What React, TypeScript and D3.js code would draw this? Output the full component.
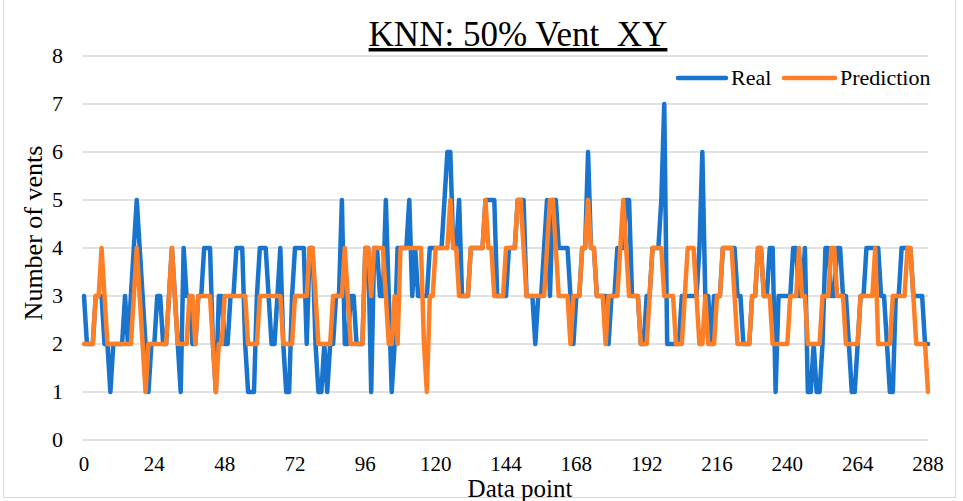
import React from "react";
import * as d3 from "d3";

// Number of vents per data point: measured (Real) and KNN output (Prediction)
const realValues: number[] = [
  3, 2, 2, 2, 3, 3, 3, 2, 2, 1,
  2, 2, 2, 2, 3, 2, 3, 4, 5, 4,
  3, 2, 1, 2, 2, 3, 3, 2, 2, 3,
  4, 3, 2, 1, 4, 3, 3, 2, 2, 3,
  3, 4, 4, 4, 2, 1, 3, 3, 2, 2,
  3, 3, 4, 4, 4, 2, 1, 1, 1, 3,
  4, 4, 4, 3, 2, 2, 3, 4, 2, 1,
  1, 3, 4, 4, 4, 4, 2, 4, 4, 2,
  1, 1, 2, 1, 2, 2, 3, 3, 5, 2,
  2, 3, 3, 2, 2, 2, 4, 4, 1, 4,
  4, 3, 3, 5, 3, 1, 2, 4, 4, 4,
  4, 5, 3, 4, 3, 3, 3, 3, 4, 4,
  4, 4, 4, 5, 6, 6, 4, 4, 5, 3,
  3, 3, 4, 4, 4, 4, 4, 5, 5, 5,
  5, 3, 3, 3, 3, 4, 4, 4, 5, 5,
  5, 3, 3, 3, 2, 3, 3, 4, 5, 3,
  5, 5, 4, 4, 4, 4, 3, 2, 3, 3,
  4, 4, 6, 4, 4, 3, 3, 3, 3, 2,
  3, 3, 4, 4, 4, 5, 5, 3, 3, 3,
  2, 2, 3, 3, 4, 4, 4, 5, 7, 2,
  2, 2, 2, 2, 3, 3, 3, 3, 3, 3,
  4, 6, 3, 3, 2, 3, 3, 3, 4, 4,
  4, 4, 4, 3, 3, 2, 2, 2, 3, 3,
  4, 4, 3, 3, 4, 4, 1, 3, 3, 3,
  3, 3, 4, 4, 3, 3, 4, 1, 1, 2,
  1, 1, 2, 4, 4, 3, 3, 4, 4, 3,
  3, 2, 1, 1, 2, 3, 3, 4, 4, 4,
  4, 4, 3, 3, 2, 1, 1, 3, 3, 4,
  4, 4, 4, 3, 3, 3, 3, 2, 2,
];

const predictionValues: number[] = [
  2, 2, 2, 2, 3, 3, 4, 3, 2, 2,
  2, 2, 2, 2, 2, 2, 2, 3, 4, 3,
  2, 1, 2, 2, 2, 2, 2, 2, 2, 3,
  4, 3, 2, 2, 2, 2, 3, 3, 2, 3,
  3, 3, 3, 3, 2, 1, 2, 2, 3, 3,
  3, 3, 3, 3, 3, 3, 2, 2, 2, 2,
  3, 3, 3, 3, 3, 3, 3, 3, 2, 2,
  2, 2, 3, 3, 3, 3, 3, 4, 4, 3,
  2, 2, 2, 2, 2, 3, 3, 3, 3, 4,
  3, 2, 2, 2, 2, 2, 4, 4, 3, 4,
  4, 4, 4, 3, 2, 2, 3, 2, 4, 4,
  4, 4, 4, 4, 4, 4, 2, 1, 3, 3,
  4, 4, 4, 4, 4, 5, 4, 4, 3, 3,
  3, 3, 4, 4, 4, 4, 4, 5, 4, 4,
  3, 3, 3, 3, 4, 4, 4, 4, 5, 5,
  4, 3, 3, 3, 3, 3, 3, 3, 4, 5,
  5, 4, 3, 3, 3, 3, 2, 3, 3, 3,
  4, 4, 5, 4, 4, 3, 3, 3, 2, 3,
  3, 3, 3, 4, 5, 4, 3, 3, 3, 3,
  2, 2, 2, 3, 4, 4, 4, 4, 3, 3,
  3, 3, 2, 2, 2, 3, 4, 4, 4, 3,
  2, 2, 3, 2, 2, 2, 3, 3, 4, 4,
  4, 4, 3, 2, 2, 2, 2, 2, 3, 3,
  4, 4, 3, 3, 3, 2, 2, 2, 2, 2,
  2, 3, 3, 3, 4, 3, 3, 2, 2, 2,
  2, 2, 3, 3, 3, 4, 4, 3, 3, 3,
  2, 2, 2, 2, 2, 3, 3, 3, 3, 3,
  4, 2, 2, 2, 2, 2, 3, 3, 3, 3,
  3, 4, 4, 3, 2, 2, 2, 2, 1,
];

const xTickValues: number[] = [0, 24, 48, 72, 96, 120, 144, 168, 192, 216, 240, 264, 288];
const yTickValues: number[] = [0, 1, 2, 3, 4, 5, 6, 7, 8];

const seriesNames = ["Real", "Prediction"];
const seriesColors = ["#1874CD", "#FF7F27"];

const WIDTH = 963;
const HEIGHT = 501;
const FONT = "'Liberation Serif', 'Times New Roman', serif";

export default function App() {
  const x = d3.scaleLinear().domain([0, 288]).range([84, 928]);
  const y = d3.scaleLinear().domain([0, 8]).range([440, 56]);

  const line = d3
    .line<number>()
    .x((_, i) => x(i))
    .y((d) => y(d));

  const series = [realValues, predictionValues];

  return (
    <svg
      width={WIDTH}
      height={HEIGHT}
      style={{ position: "absolute", left: 0, top: 0, background: "#fff" }}
      fontFamily={FONT}
    >
      <rect x={3.5} y={-2} width={952} height={499.5} fill="#fff" stroke="#d9d9d9" strokeWidth={1} />

      {/* horizontal gridlines */}
      {yTickValues.map((t) => (
        <line key={t} x1={82} x2={928} y1={y(t)} y2={y(t)} stroke="#d9d9d9" strokeWidth={1.5} />
      ))}

      {/* y tick labels */}
      {yTickValues.map((t) => (
        <text key={t} x={63} y={y(t)} dy="0.33em" textAnchor="end" fontSize={22} fill="#000">
          {t}
        </text>
      ))}

      {/* x tick labels */}
      {xTickValues.map((t) => (
        <text key={t} x={x(t)} y={471} textAnchor="middle" fontSize={21} fill="#000">
          {t}
        </text>
      ))}

      {/* series lines */}
      {series.map((vals, k) => (
        <path
          key={k}
          d={line(vals) ?? ""}
          fill="none"
          stroke={seriesColors[k]}
          strokeWidth={4.5}
          strokeLinejoin="round"
          strokeLinecap="round"
        />
      ))}

      {/* title */}
      <text x={518} y={46} textAnchor="middle" fontSize={35} textDecoration="underline" fill="#000">
        KNN: 50% Vent_XY
      </text>

      {/* axis titles */}
      <text x={520} y={497} textAnchor="middle" fontSize={25} fill="#000">
        Data point
      </text>
      <text
        transform={`translate(42, 233) rotate(-90)`}
        textAnchor="middle"
        fontSize={26}
        fill="#000"
      >
        Number of vents
      </text>

      {/* legend */}
      <g>
        <line x1={678} x2={726} y1={78} y2={78} stroke={seriesColors[0]} strokeWidth={4.5} strokeLinecap="round" />
        <text x={731} y={85} fontSize={22} fill="#000">
          {seriesNames[0]}
        </text>
        <line x1={784} x2={835} y1={78} y2={78} stroke={seriesColors[1]} strokeWidth={4.5} strokeLinecap="round" />
        <text x={840} y={85} fontSize={22} fill="#000">
          {seriesNames[1]}
        </text>
      </g>
    </svg>
  );
}
